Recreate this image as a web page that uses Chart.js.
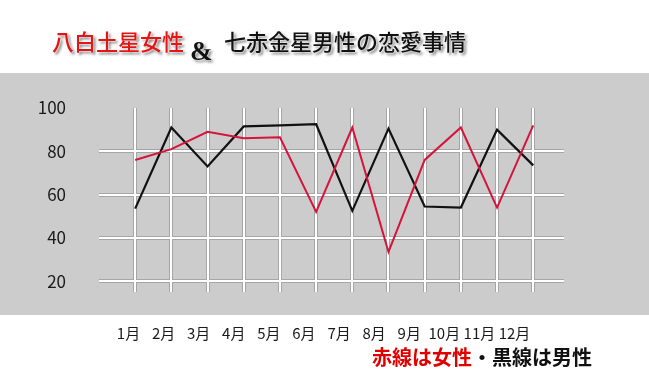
<!DOCTYPE html>
<html lang="ja">
  <head>
    <meta charset="UTF-8" />
    <title>八白土星女性 &amp; 七赤金星男性の恋愛事情</title>
    <style>
      body {
        margin: 0;
        padding: 0;
        background: #fff;
        font-family: "Noto Sans CJK JP", sans-serif;
      }

      .wrap {
        position: relative;
        width: 649px;
        height: 388px;
        overflow: hidden;
      }

      /* gray band behind the plot */
      .band {
        position: absolute;
        left: 0;
        top: 73px;
        width: 649px;
        height: 242px;
        background: #cccccc;
      }

      canvas {
        position: absolute;
        left: 0;
        top: 0;
      }

      .title {
        position: absolute;
        top: 29px;
        font-size: 22px;
        font-weight: 500;
        line-height: 1;
        white-space: nowrap;
        text-shadow: 0 0 2px #fff, 0 0 2px #fff, 2px 2px 3px rgba(0, 0, 0, 0.6);
      }

      .t-red {
        left: 52px;
        color: #e41515;
      }

      .t-amp {
        left: 190px;
        top: 38px;
        font-family: "Liberation Serif", serif;
        font-weight: bold;
        font-size: 27px;
        color: #111;
      }

      .t-black {
        left: 224px;
        color: #111;
      }

      .note {
        position: absolute;
        left: 372px;
        top: 347px;
        font-size: 20px;
        font-weight: bold;
        line-height: 1;
        white-space: nowrap;
        color: #111;
      }

      .note .red {
        color: #e00000;
      }
    </style>
  </head>
  <body>
    <div class="wrap">
      <div class="band"></div>
      <canvas id="chart" width="649" height="388"></canvas>
      <div class="title t-red">八白土星女性</div>
      <div class="title t-amp">&amp;</div>
      <div class="title t-black">七赤金星男性の恋愛事情</div>
      <div class="note"><span class="red">赤線は女性</span>・黒線は男性</div>
    </div>

    <script src="https://cdn.jsdelivr.net/npm/chart.js"></script>
    <script>
      const months = ['1月', '2月', '3月', '4月', '5月', '6月', '7月', '8月', '9月', '10月', '11月', '12月'];
      // 赤線: 八白土星女性
      const womenScores = [76, 81, 89, 86, 86.5, 52, 91, 33.5, 76, 91, 54, 92];
      // 黒線: 七赤金星男性
      const menScores = [53.5, 91, 73, 91.5, 92, 92.5, 52.5, 90.5, 54.5, 54, 90, 73.5];
      const yTicks = [20, 40, 60, 80, 100];

      const monthTicks = (axis) => {
        axis.ticks = months.map((m, i) => ({ value: i + 1 }));
      };
      const valueTicks = (axis) => {
        axis.ticks = yTicks.map((v) => ({ value: v }));
      };

      const toPoints = (arr) => arr.map((v, i) => ({ x: i + 1, y: v }));

      const family = '"Noto Sans CJK JP", sans-serif';
      const hideTop = (color) => (c) => (c.tick && c.tick.value === 100 ? 'rgba(0,0,0,0)' : color);

      new Chart(document.getElementById('chart'), {
        type: 'line',
        data: {
          datasets: [
            {
              label: '女性',
              data: toPoints(womenScores),
              borderColor: '#d4143a',
              borderWidth: 2,
              pointRadius: 0,
              tension: 0,
            },
            {
              label: '男性',
              data: toPoints(menScores),
              borderColor: '#111111',
              borderWidth: 2.2,
              pointRadius: 0,
              tension: 0,
            },
          ],
        },
        options: {
          responsive: false,
          animation: false,
          layout: { padding: { left: 35, right: 85, top: 108, bottom: 0 } },
          plugins: {
            legend: { display: false },
            tooltip: { enabled: false },
          },
          scales: {
            // shadow lines under the white grid
            xs: {
              type: 'linear',
              position: 'bottom',
              min: 0,
              max: 12.85,
              afterBuildTicks: monthTicks,
              afterFit: (s) => { s.height = 0; },
              ticks: { display: false },
              border: { display: false },
              grid: { color: '#a6a6a6', lineWidth: 4, drawTicks: false, z: -2 },
            },
            ys: {
              type: 'linear',
              position: 'left',
              min: 15,
              max: 100,
              afterBuildTicks: valueTicks,
              afterFit: (s) => { s.width = 0; },
              ticks: { display: false },
              border: { display: false },
              grid: { color: hideTop('#a6a6a6'), lineWidth: 4, drawTicks: false, z: -2 },
            },
            x: {
              type: 'linear',
              position: 'bottom',
              min: 0,
              max: 12.85,
              afterBuildTicks: monthTicks,
              afterFit: (s) => { s.height = 0; },
              border: { display: false },
              grid: { color: '#ffffff', lineWidth: 2, drawTicks: false, z: -1 },
              ticks: { display: false },
            },
            // month labels sit a little tighter than the grid columns
            xl: {
              type: 'linear',
              position: 'bottom',
              min: 0.16,
              max: 13.41,
              afterBuildTicks: monthTicks,
              afterFit: (s) => { s.height = 96; },
              border: { display: false },
              grid: { display: false, drawTicks: false },
              ticks: {
                font: { family: family, size: 15 },
                color: '#1a1a1a',
                padding: 32,
                maxRotation: 0,
                autoSkip: false,
                callback: (v) => months[v - 1],
              },
            },
            y: {
              type: 'linear',
              position: 'left',
              min: 15,
              max: 100,
              afterBuildTicks: valueTicks,
              afterFit: (s) => { s.width = 64; },
              border: { display: false },
              grid: { color: hideTop('#ffffff'), lineWidth: 2, drawTicks: false, z: -1 },
              ticks: { font: { family: family, size: 17 }, color: '#1a1a1a', padding: 33 },
            },
          },
        },
      });
    </script>
  </body>
</html>
